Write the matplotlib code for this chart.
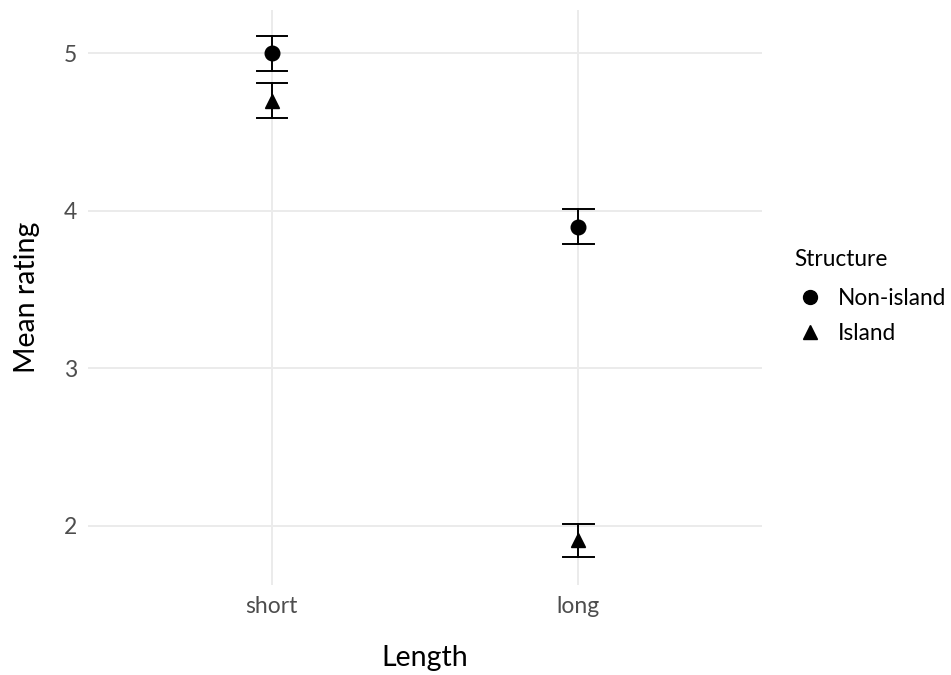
import matplotlib
matplotlib.use("Agg")
import matplotlib.pyplot as plt
from matplotlib.lines import Line2D

plt.rcParams['font.family'] = ['Lato', 'DejaVu Sans']

lengths = ["short", "long"]
structures = ["Non-island", "Island"]
markers = {"Non-island": "o", "Island": "^"}
means = {"Non-island": [5.00, 3.90], "Island": [4.70, 1.91]}
lower = {"Non-island": [4.89, 3.79], "Island": [4.59, 1.80]}
upper = {"Non-island": [5.11, 4.01], "Island": [4.81, 2.01]}

fig = plt.figure(figsize=(9.51, 6.75), dpi=100)
ax = fig.add_axes([88 / 951, 1 - 585 / 675, (762 - 88) / 951, (585 - 10) / 675])

xpos = [1, 2]
cap = 0.05
for s in structures:
    for i, x in enumerate(xpos):
        lo, hi = lower[s][i], upper[s][i]
        ax.plot([x, x], [lo, hi], color='black', lw=1.4, zorder=3)
        ax.plot([x - cap, x + cap], [lo, lo], color='black', lw=1.4, zorder=3)
        ax.plot([x - cap, x + cap], [hi, hi], color='black', lw=1.4, zorder=3)
    ax.plot(xpos, means[s], linestyle='none', marker=markers[s], color='black',
            markersize=10.5, zorder=4)

ax.set_xlim(0.4, 2.6)
ax.set_ylim(1.625, 5.275)
ax.set_xticks(xpos)
ax.set_xticklabels(lengths)
ax.set_yticks([2, 3, 4, 5])
ax.grid(True, color='#EBEBEB', lw=1.4)
ax.set_axisbelow(True)
for sp in ax.spines.values():
    sp.set_visible(False)
ax.tick_params(length=0, labelsize=16.5, labelcolor='#4D4D4D', pad=8)
ax.set_xlabel("Length", fontsize=20.5, labelpad=20)
ax.set_ylabel("Mean rating", fontsize=20.5, labelpad=17)

handles = [Line2D([], [], linestyle='none', marker=markers[s], color='black',
                  markersize=10) for s in structures]
leg = fig.legend(handles, structures, title="Structure", loc='upper left',
                 bbox_to_anchor=(774 / 951, 1 - 229 / 675), frameon=False,
                 fontsize=16.3, title_fontsize=16.3, handletextpad=0.5,
                 labelspacing=0.6, handlelength=1.4)
leg._legend_box.align = "left"
leg._legend_box.sep = leg._legend_box.sep + 3

fig.savefig("out.png", dpi=100)
